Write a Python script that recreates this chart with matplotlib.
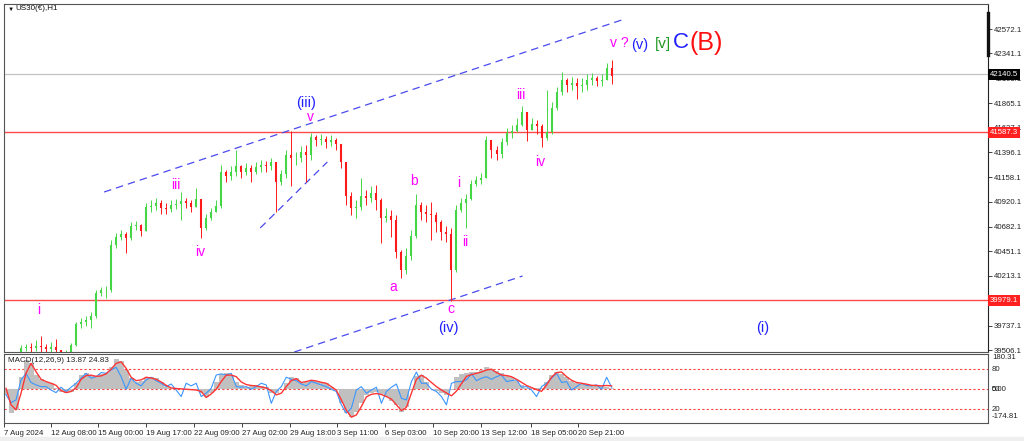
import numpy as np
import matplotlib.pyplot as plt
from matplotlib.patches import Rectangle

plt.rcParams['font.family'] = ['Liberation Sans', 'DejaVu Sans']

# ---- price data (one candle ~ 4 hours of the H1 chart) ----
first_open = 39370
closes = [39390, 39420, 39460,
          39526, 39535, 39526, 39545, 39535, 39516, 39535, 39507, 39430, 39449,
          39554, 39755, 39774, 39793, 39831, 40051, 40080, 40080, 40509, 40586,
          40614, 40576, 40691, 40700, 40643, 40872, 40882, 40910, 40863, 40853,
          40891, 40901, 40929, 40910, 40872, 40949, 40672, 40767, 40824, 40882,
          41206, 41168, 41206, 41264, 41206, 41245, 41206, 41254, 41273, 41264,
          41302, 41111, 41187, 41369, 41340, 41340, 41397, 41369, 41541, 41512,
          41522, 41493, 41512, 41474, 41302, 40977, 40863, 40872, 40977, 40958,
          41006, 40939, 40767, 40786, 40748, 40442, 40271, 40404, 40595, 40891,
          40824, 40805, 40796, 40729, 40633, 40614, 40271, 40844, 40910, 40949,
          41092, 41130, 41149, 41512, 41417, 41378, 41493, 41579, 41598, 41655,
          41779, 41608, 41665, 41646, 41531, 41588, 41818, 41970, 42085, 42037,
          42056, 42028, 42037, 42085, 42104, 42075, 42085, 42200, 42123]
highs = [39430, 39460, 39480,
         39554, 39564, 39573, 39602, 39640, 39564, 39583, 39612, 39487, 39507,
         39573, 39774, 39812, 39831, 39869, 40080, 40108, 40118, 40557, 40624,
         40653, 40633, 40729, 40738, 40710, 40910, 40939, 40958, 40939, 40910,
         40939, 40949, 41015, 40958, 40939, 41054, 40910, 40805, 40863, 40939,
         41273, 41226, 41264, 41417, 41273, 41292, 41273, 41302, 41321, 41311,
         41340, 41273, 41226, 41417, 41598, 41397, 41455, 41464, 41579, 41560,
         41569, 41550, 41560, 41531, 41455, 41273, 41015, 40939, 41149, 41035,
         41073, 41082, 40958, 40863, 40844, 40796, 40462, 40481, 40653, 40996,
         40920, 40891, 40920, 40824, 40748, 40691, 40672, 40891, 40958, 40996,
         41130, 41168, 41197, 41550, 41512, 41455, 41531, 41627, 41655, 41722,
         41837, 41779, 41722, 41703, 41665, 41990, 41875, 42018, 42161, 42104,
         42114, 42104, 42104, 42142, 42152, 42123, 42142, 42247, 42276]
lows = [39350, 39380, 39420,
        39487, 39497, 39487, 39497, 39487, 39478, 39487, 39459, 39392, 39411,
        39449, 39545, 39717, 39736, 39717, 39812, 40022, 40003, 40060, 40481,
        40557, 40433, 40557, 40653, 40595, 40653, 40824, 40844, 40805, 40805,
        40824, 40853, 40748, 40863, 40824, 40882, 40576, 40653, 40748, 40824,
        40863, 41111, 41130, 41168, 41149, 41178, 41111, 41187, 41206, 41206,
        41226, 40824, 41082, 41149, 41073, 41273, 41302, 41111, 41321, 41455,
        41464, 41436, 41455, 41417, 41245, 40891, 40796, 40767, 40844, 40891,
        40920, 40844, 40528, 40729, 40586, 40385, 40194, 40232, 40366, 40576,
        40748, 40729, 40557, 40633, 40557, 40538, 39975, 40251, 40824, 40672,
        40939, 41073, 41092, 41149, 41340, 41321, 41340, 41464, 41531, 41588,
        41646, 41502, 41608, 41569, 41445, 41512, 41569, 41799, 41942, 41970,
        41990, 41904, 41970, 41990, 42037, 42028, 42028, 42085, 42047]

# ---- indicator panel ----
macd_hist = [-30, -128, -110, 67, 156, 138, 76, 53, 41, 32,
             5, -16, -21, -12, 32, 76, 85, 71, 71, 80,
             89, 121, 160, 153, 103, 59, 41, 46, 67, 67,
             59, 41, 14, 7, 4, 0, 0, -2, -4, -21,
             -39, -18, 41, 80, 85, 78, 41, 21, 14, 20,
             23, 20, 14, -21, -21, 0, 32, 64, 59, 36,
             41, 50, 44, 37, 32, 14, -4, -75, -128, -146,
             -119, -75, -30, -18, -12, -27, -39, -60, -83, -119,
             -92, -4, 71, 76, 41, 0, -11, -18, -30, -4,
             67, 80, 85, 91, 94, 103, 117, 107, 96, 85,
             78, 67, 46, 25, 5, 5, 5, 7, 41, 76,
             94, 82, 64, 46, 32, 27, 23, 23, 23, 18,
             14, 7]
macd_signal = [5, -83, -110, -21, 85, 138, 94, 53, 41, 32,
               21, -7, -18, -12, 7, 53, 73, 75, 69, 71,
               82, 107, 138, 146, 112, 64, 46, 50, 64, 60,
               53, 39, 21, 7, 4, 2, 0, -2, -4, -12,
               -44, -25, 0, 41, 75, 76, 67, 39, 25, 20,
               18, 12, 7, -7, -30, -21, 14, 46, 57, 36,
               41, 48, 44, 37, 32, 14, -5, -57, -112, -149,
               -137, -92, -41, -27, -23, -28, -39, -53, -83, -114,
               -96, -21, 53, 75, 59, 36, 14, -4, -20, -35,
               -10, 30, 69, 78, 85, 92, 103, 107, 89, 76,
               73, 67, 53, 37, 20, 9, -2, -11, 23, 64,
               89, 92, 67, 48, 36, 32, 27, 21, 20, 18,
               20, 18]
macd_fast = [-30, -71, -57, 50, 85, 36, 23, 14, 14, -4,
             -18, 11, -12, 11, 32, 59, 85, 59, 67, 89,
             85, 103, 117, 67, 0, 59, 32, 18, 50, 64,
             46, 32, 14, 28, -4, -39, 32, 18, 32, -39,
             -21, 5, 76, 82, 76, 85, 14, 11, 14, 0,
             14, 32, 23, -75, -12, 14, 64, 53, 46, 28,
             18, 41, 32, 23, 14, 0, -12, -83, -128, -101,
             -4, 14, -21, -4, 11, -75, -12, 11, 28, -48,
             -57, 41, 92, 32, 32, 0, -12, -39, -83, 32,
             41, 41, 50, 82, 46, 59, 67, 53, 67, 76,
             41, 46, 50, 11, 14, -4, -39, 14, 32, 59,
             85, 36, 41, -4, 14, 32, 20, 18, 23, 0,
             64, 11]

# ---- axis text ----
price_ticks = [42572.1, 42341.1, 42103.1, 41865.1, 41627.1, 41396.1, 41158.1,
               40920.1, 40682.1, 40451.1, 40213.1, 39737.1, 39506.1]
time_pos = [-0.4, 9, 18.4, 28, 37.6, 47.2, 56.8, 66.2, 75.8, 85.4, 95, 104.8, 114.2]
time_labels = ['7 Aug 2024', '12 Aug 08:00', '15 Aug 00:00', '19 Aug 17:00',
               '22 Aug 09:00', '27 Aug 02:00', '29 Aug 18:00', '3 Sep 11:00',
               '6 Sep 03:00', '10 Sep 20:00', '13 Sep 12:00', '18 Sep 05:00',
               '20 Sep 21:00']
support_levels = [41587.3, 39979.1]
bid_price = 42140.5

# analyst drawings, in (bar, price)
trend_lines = [((19.6, 41015), (123.0, 42658)),
               ((57.6, 39487), (103.2, 40213)),
               ((50.8, 40672), (64.2, 41302))]
MAG, BLU = '#ff00ff', '#2020ff'
wave_labels = [('i', 6.6, 39889, MAG, 10), ('iii', 34, 41082, MAG, 10),
               ('iv', 38.8, 40442, MAG, 10), ('(iii)', 60, 41865, BLU, 10.5),
               ('v', 60.8, 41732, MAG, 10), ('a', 77.4, 40108, MAG, 10),
               ('b', 81.6, 41120, MAG, 10), ('c', 88.8, 39898, MAG, 10),
               ('(iv)', 88.4, 39717, BLU, 10.5), ('i', 90.4, 41101, MAG, 10),
               ('ii', 91.8, 40538, MAG, 10), ('iii', 102.8, 41942, MAG, 10),
               ('iv', 106.8, 41302, MAG, 10), ('v ?', 122.6, 42438, MAG, 10),
               ('(v)', 126.6, 42419, BLU, 10.5), ('[v]', 131.2, 42429, '#229922', 11),
               ('C', 134.8, 42440, BLU, 16), ('(B)', 139.8, 42440, '#ff1010', 18),
               ('(i)', 151.2, 39717, BLU, 10.5)]

fig = plt.figure(figsize=(10.24, 4.41), dpi=100, facecolor='white')
fig.patches.append(Rectangle((0, 0), 1, 4 / 441, transform=fig.transFigure,
                             color='#efefef', zorder=0))

ax = fig.add_axes([4 / 1024, 1 - 352 / 441, 984 / 1024, 348 / 441])
ax2 = fig.add_axes([4 / 1024, 1 - 423 / 441, 984 / 1024, 69 / 441], sharex=ax)

c = np.array(closes, dtype=float)
o = np.r_[first_open, c[:-1]]
h = np.maximum(np.array(highs, dtype=float), np.maximum(o, c))
l = np.minimum(np.array(lows, dtype=float), np.minimum(o, c))
x = np.arange(len(c))
col = np.where(c >= o, '#45d645', '#ff1a1a')

ax.vlines(x, l, h, colors=col, lw=0.7, zorder=3)
ax.vlines(x, np.minimum(o, c), np.maximum(o, c), colors=col, lw=1.5, zorder=3)

for lvl in support_levels:
    ax.axhline(lvl, color='#ff4a4a', lw=1.0, zorder=2)
ax.axhline(bid_price, color='#c4c4c4', lw=0.9, zorder=2)

for (x0, y0), (x1, y1) in trend_lines:
    ax.plot([x0, x1], [y0, y1], color='#4a4af0', lw=0.9, dashes=(6, 4), zorder=2)

for txt, bx, py, clr, fs in wave_labels:
    ax.text(bx, py, txt, color=clr, fontsize=fs, ha='center', va='center', zorder=5)

ax.set_xlim(-0.4, 196.2)
ax.set_ylim(39487, 42811)
ax.yaxis.tick_right()
ax.set_yticks(price_ticks)
ax.set_yticklabels([f'{v:.1f}' for v in price_ticks])
ax.tick_params(axis='y', labelsize=5.6, length=3, width=0.6, pad=1, colors='#222222')
ax.tick_params(axis='x', bottom=False, labelbottom=False)
for s in ax.spines.values():
    s.set_color('#555555')
    s.set_linewidth(0.8)
ax.spines['right'].set_color('#222222')
ax.plot([1, 1], [42324, 42725], transform=ax.get_yaxis_transform(), color='#111111',
        lw=2.4, clip_on=False, zorder=6)

# price boxes on the axis
boxes = [(bid_price, '#000000'), (support_levels[0], '#ff2020'), (support_levels[1], '#ff2020')]
for val, bg in boxes:
    ax.text(1.002, val, f'{val:.1f}', transform=ax.get_yaxis_transform(), color='white',
            fontsize=5.6, ha='left', va='center', zorder=7,
            bbox=dict(boxstyle='square,pad=0.25', fc=bg, ec='none'))

fig.text(8 / 1024, 1 - 9 / 441, '\u25bc', fontsize=4.5, va='center', ha='left', color='#111111')
fig.text(15 / 1024, 1 - 9 / 441, 'US30(\u20ac),H1', fontsize=5.8, va='center', ha='left',
         color='#111111')

# ---- lower panel ----
ax2.bar(x, macd_hist, width=1.0, color='#c0c0c0', zorder=2)
ax2.plot(x, macd_signal, color='#ff3535', lw=1.0, zorder=4)
ax2.plot(x, macd_fast, color='#3a96ff', lw=0.8, zorder=3)
for lv in (106.5, 0, -106.5):
    ax2.axhline(lv, color='#ff4040', lw=0.8, dashes=(2, 2), zorder=1)
ax2.set_ylim(-180, 188)
ax2.set_yticks([])
ax2.text(0.004, 0.9, 'MACD(12,26,9) 13.87 24.83', transform=ax2.transAxes, fontsize=5.8,
         va='center', ha='left', color='#222222')
yt = ax2.get_yaxis_transform()
for val, txt in [(167, '180.31'), (106.5, '80'), (0, '50'), (0, '0.00'), (-106.5, '20'),
                 (-148, '-174.81')]:
    ax2.text(1.004, val, txt, transform=yt, fontsize=5.6, ha='left', va='center',
             color='#222222', clip_on=False)
ax2.set_xticks(time_pos)
ax2.set_xticklabels(time_labels)
ax2.tick_params(axis='x', labelsize=5.6, length=3, width=0.6, pad=2, colors='#222222')
for lbl in ax2.get_xticklabels():
    lbl.set_ha('left')
for s in ax2.spines.values():
    s.set_color('#555555')
    s.set_linewidth(0.8)

fig.savefig('out.png', dpi=100, facecolor='white')
